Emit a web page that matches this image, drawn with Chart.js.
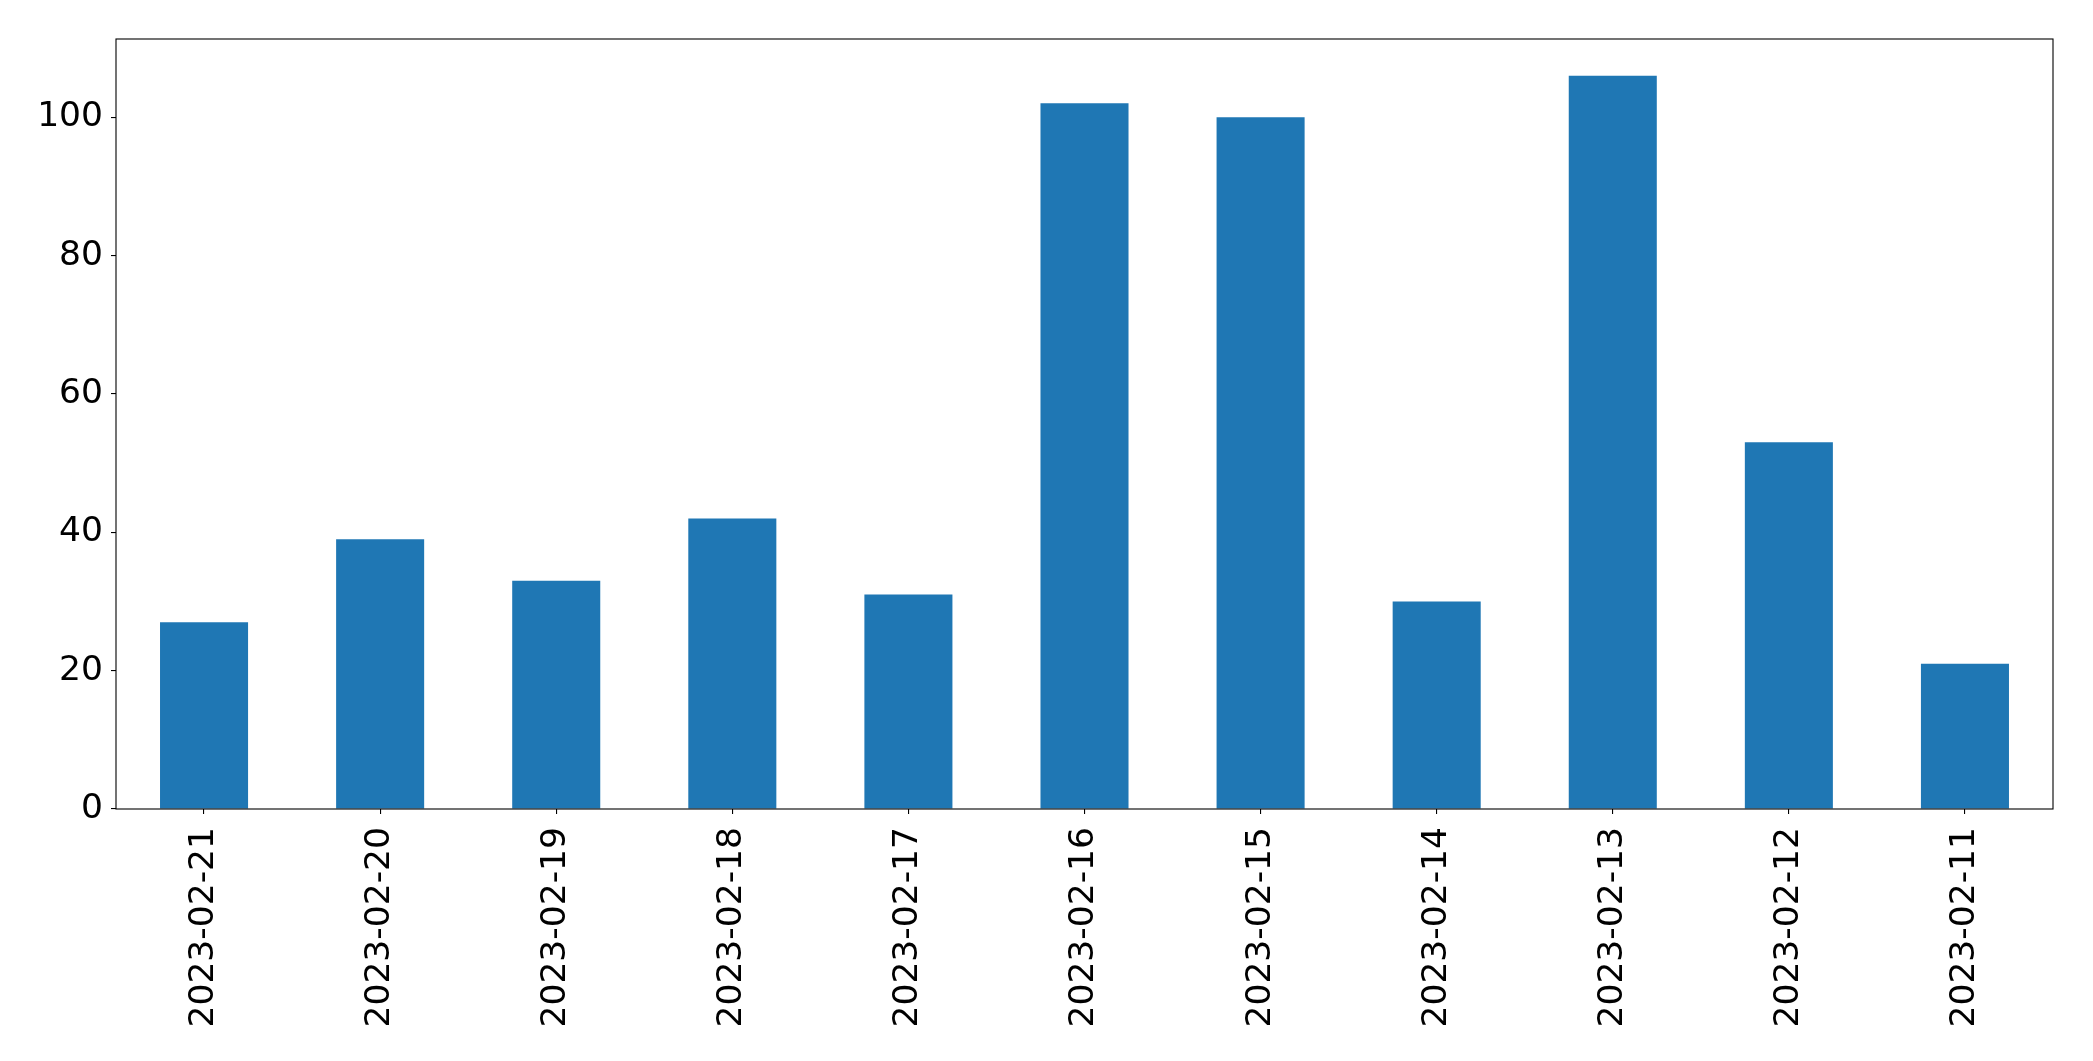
<!DOCTYPE html>
<html>
<head>
<meta charset="utf-8">
<script src="https://cdn.jsdelivr.net/npm/chart.js@4"></script>
<style>
  html, body { margin: 0; padding: 0; background: #fff; }
  #wrap { width: 2093px; height: 1061px; }
</style>
</head>
<body>
<div id="wrap"><canvas id="bar-chart"></canvas></div>
<script>
const dates = [
  "2023-02-21", "2023-02-20", "2023-02-19", "2023-02-18", "2023-02-17", "2023-02-16",
  "2023-02-15", "2023-02-14", "2023-02-13", "2023-02-12", "2023-02-11",
];
const counts = [27, 39, 33, 42, 31, 102, 100, 30, 106, 53, 21];
const yTicks = [0, 20, 40, 60, 80, 100];

const frame = {
  id: "frame",
  afterDraw: (chart) => {
    const { ctx, chartArea } = chart;
    ctx.save();
    ctx.strokeStyle = "#000";
    ctx.lineWidth = 1.1;
    ctx.strokeRect(chartArea.left, chartArea.top, chartArea.right - chartArea.left, chartArea.bottom - chartArea.top);
    ctx.restore();
  },
};

const ctx = document.getElementById("bar-chart").getContext("2d");
new Chart(ctx, {
  type: "bar",
  data: {
    labels: dates,
    datasets: [
      {
        data: counts,
        backgroundColor: "#1f77b4",
        borderWidth: 0,
        barPercentage: 1,
        categoryPercentage: 0.5,
      },
    ],
  },
  options: {
    responsive: true,
    maintainAspectRatio: false,
    animation: false,
    devicePixelRatio: 1,
    layout: { padding: { top: 39, right: 40, left: 0, bottom: 0 } },
    plugins: {
      legend: { display: false },
      tooltip: { enabled: false },
    },
    scales: {
      x: {
        offset: true,
        afterFit: (scale) => { scale.height = 252; },
        grid: {
          offset: false,
          drawOnChartArea: false,
          drawTicks: true,
          tickLength: 5,
          color: "#000",
          lineWidth: 1.1,
        },
        border: { display: false },
        ticks: {
          color: "#000",
          font: { family: "DejaVu Sans", size: 34.5 },
          maxRotation: 90,
          minRotation: 90,
          padding: 13,
          autoSkip: false,
        },
      },
      y: {
        min: 0,
        max: 111.3,
        afterFit: (scale) => { scale.width = 116; },
        afterBuildTicks: (scale) => { scale.ticks = yTicks.map((v) => ({ value: v })); },
        grid: {
          drawOnChartArea: false,
          drawTicks: true,
          tickLength: 5,
          color: "#000",
          lineWidth: 1.1,
        },
        border: { display: false },
        ticks: {
          color: "#000",
          font: { family: "DejaVu Sans", size: 34.5 },
          padding: 8,
          includeBounds: false,
        },
      },
    },
  },
  plugins: [frame],
});
</script>
</body>
</html>
